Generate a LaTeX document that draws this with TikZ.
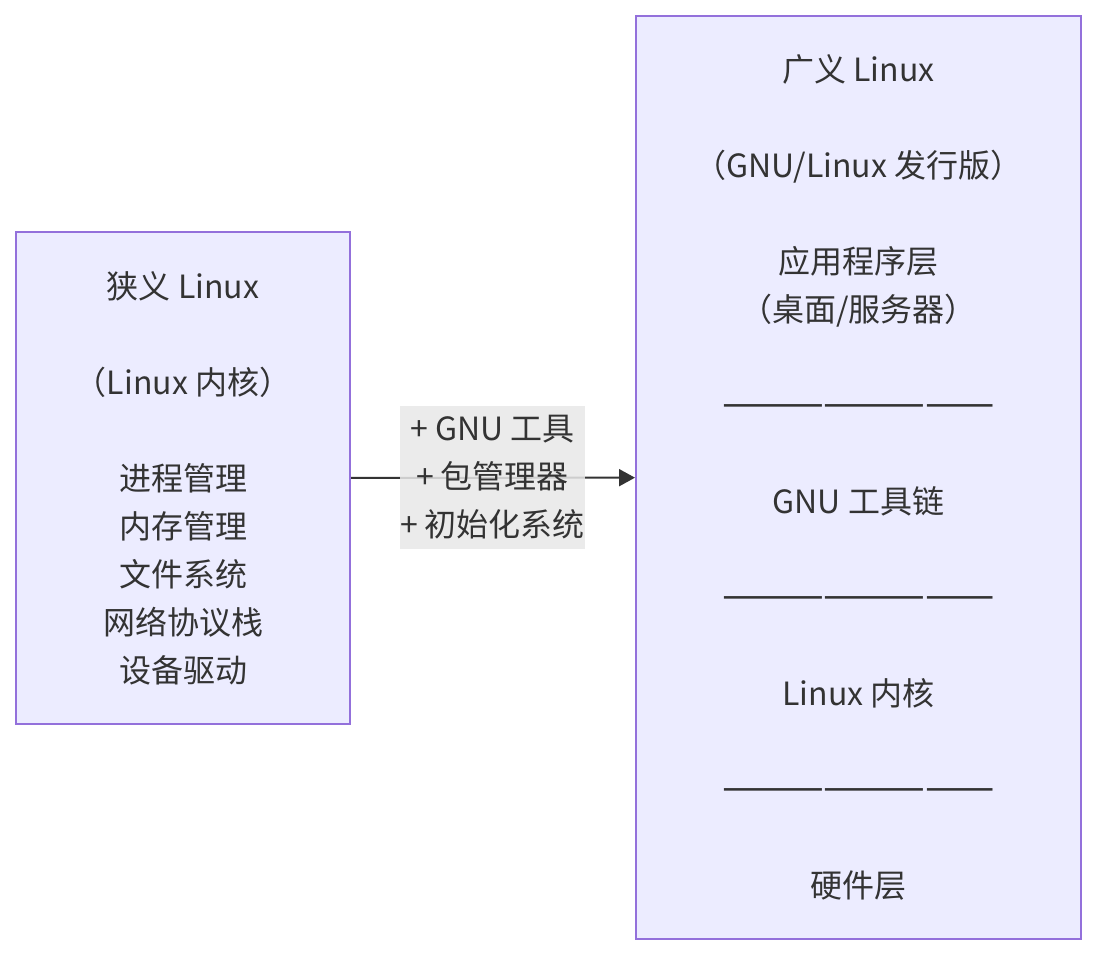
\documentclass[tikz,border=0pt]{standalone}
\usepackage{fontspec}
\usepackage{graphicx}
\setmainfont{Noto Sans CJK SC}
\usetikzlibrary{arrows.meta}
\definecolor{boxfill}{HTML}{ECECFF}
\definecolor{boxline}{HTML}{9370DB}
\definecolor{textgray}{HTML}{333333}
\definecolor{labelfill}{HTML}{E8E8E8}
\newcommand{\layerrule}{\resizebox{273pt}{!}{————————}}
\begin{document}
\begin{tikzpicture}[
  x=1pt, y=-1pt,
  box/.style={rectangle, draw=boxline, fill=boxfill, line width=2pt,
              font=\fontsize{32}{48}\selectfont, text=textgray, align=center,
              inner sep=0pt},
  edgelabel/.style={rectangle, fill=labelfill, fill opacity=0.85, text opacity=1,
                    font=\fontsize{32}{48}\selectfont, text=textgray, align=center,
                    minimum width=185pt, minimum height=143pt, inner sep=0pt},
  link/.style={draw=textgray, line width=2pt,
               -{Triangle[length=16pt,width=17pt]}},
]
  \useasboundingbox (0,0) rectangle (1097,956);

  % Narrow sense: the kernel
  \node[box, minimum width=334pt, minimum height=492pt] at (183,478) (kernel)
    {狭义 Linux\\[48pt]（Linux 内核）\\[48pt]进程管理\\内存管理\\文件系统\\网络协议栈\\设备驱动};

  % Broad sense: the distribution
  \node[box, minimum width=445pt, minimum height=923pt] at (858.5,477.5) (distro)
    {广义 Linux\\[48pt]（GNU/Linux 发行版）\\[48pt]应用程序层\\（桌面/服务器）\\[48pt]
     \layerrule\\[48pt]GNU 工具链\\[48pt]\layerrule\\[48pt]Linux 内核\\[48pt]
     \layerrule\\[48pt]硬件层};

  % Arrow with its label on top
  \draw[link] (kernel) -- (distro);
  \node[edgelabel] at (492.5,477.5) (extras) {+ GNU 工具\\+ 包管理器\\+ 初始化系统};
\end{tikzpicture}
\end{document}
